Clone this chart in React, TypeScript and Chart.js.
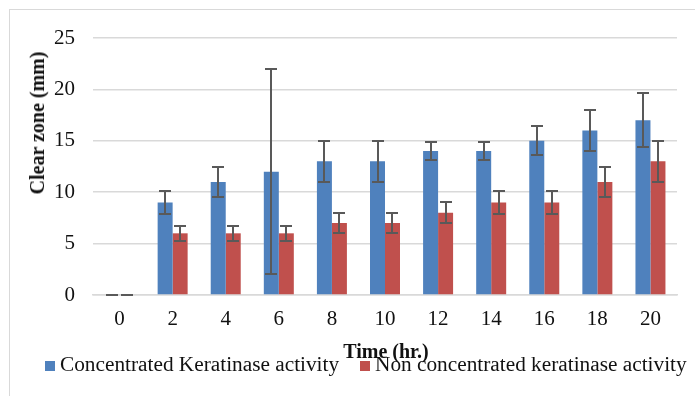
import React, { useEffect, useRef } from "react";
import { Chart, registerables } from "chart.js";

Chart.register(...registerables);

const timeLabels = ["0", "2", "4", "6", "8", "10", "12", "14", "16", "18", "20"];
const concentrated = [0, 9, 11, 12, 13, 13, 14, 14, 15, 16, 17];
const concentratedError = [0, 1.1, 1.5, 10, 2, 2, 0.85, 0.85, 1.4, 2, 2.65];
const nonConcentrated = [0, 6, 6, 6, 7, 7, 8, 9, 9, 11, 13];
const nonConcentratedError = [0, 0.7, 0.7, 0.7, 1, 1, 1, 1.1, 1.1, 1.5, 2];
const yTicks = [0, 5, 10, 15, 20, 25];

const seriesNames = ["Concentrated Keratinase activity", "Non concentrated keratinase activity"];
const seriesColors = ["#4F81BD", "#C0504D"];
const errors = [concentratedError, nonConcentratedError];

const errorBarPlugin = {
  id: "errorBars",
  afterDatasetsDraw(chart: any) {
    const ctx = chart.ctx;
    const yScale = chart.scales.y;
    ctx.save();
    ctx.strokeStyle = "#595959";
    ctx.lineWidth = 2;
    chart.data.datasets.forEach((ds: any, i: number) => {
      const meta = chart.getDatasetMeta(i);
      const errs = errors[i];
      meta.data.forEach((bar: any, j: number) => {
        const v = ds.data[j];
        const e = errs[j];
        const x = Math.round(bar.x);
        const yTop = Math.round(yScale.getPixelForValue(v + e));
        const yBot = Math.round(yScale.getPixelForValue(v - e));
        const half = 6;
        ctx.beginPath();
        if (e > 0) {
          ctx.moveTo(x, yTop);
          ctx.lineTo(x, yBot);
        }
        ctx.moveTo(x - half, yTop);
        ctx.lineTo(x + half, yTop);
        ctx.moveTo(x - half, yBot);
        ctx.lineTo(x + half, yBot);
        ctx.stroke();
      });
    });
    ctx.restore();
  },
};

export default function App() {
  const canvasRef = useRef<HTMLCanvasElement | null>(null);

  useEffect(() => {
    if (!canvasRef.current) return;
    const chart = new Chart(canvasRef.current, {
      type: "bar",
      data: {
        labels: timeLabels,
        datasets: [
          {
            label: seriesNames[0],
            data: concentrated,
            backgroundColor: seriesColors[0],
            borderWidth: 0,
            barPercentage: 1,
            categoryPercentage: 0.565,
          },
          {
            label: seriesNames[1],
            data: nonConcentrated,
            backgroundColor: seriesColors[1],
            borderWidth: 0,
            barPercentage: 1,
            categoryPercentage: 0.565,
          },
        ],
      },
      options: {
        animation: false,
        responsive: false,
        maintainAspectRatio: false,
        layout: { padding: { top: 38, right: 18, bottom: 0, left: 0 } },
        plugins: {
          legend: { display: false },
          tooltip: { enabled: false },
        },
        scales: {
          x: {
            grid: { display: false, drawTicks: false },
            border: { display: true, color: "#d9d9d9", width: 1.5 },
            ticks: {
              padding: 12,
              color: "#111",
              font: { family: "Liberation Serif", size: 21 },
              maxRotation: 0,
            },
            afterFit: (scale: any) => {
              scale.height = 101;
            },
          },
          y: {
            min: 0,
            max: 25,
            afterBuildTicks: (scale: any) => {
              scale.ticks = yTicks.map((v) => ({ value: v }));
            },
            grid: { color: "#d9d9d9", lineWidth: 1.5, drawTicks: false },
            border: { display: false },
            ticks: {
              padding: 18,
              color: "#111",
              font: { family: "Liberation Serif", size: 21 },
            },
            afterFit: (scale: any) => {
              scale.width = 93;
            },
          },
        },
      },
      plugins: [errorBarPlugin],
    });
    return () => chart.destroy();
  }, []);

  const textStyle: React.CSSProperties = {
    position: "absolute",
    fontFamily: "Liberation Serif",
    color: "#111",
    whiteSpace: "nowrap",
  };

  return (
    <div style={{ position: "fixed", left: 0, top: 0, width: 695, height: 396, overflow: "hidden", background: "#fff" }}>
      <div
        style={{
          position: "absolute",
          left: 9,
          top: 9,
          width: 686,
          height: 387,
          borderLeft: "1px solid #d9d9d9",
          borderTop: "1px solid #d9d9d9",
          boxSizing: "border-box",
        }}
      />
      <canvas ref={canvasRef} width={695} height={396} style={{ position: "absolute", left: 0, top: 0 }} />
      <div
        style={{
          ...textStyle,
          left: 37,
          top: 123,
          fontSize: 20,
          lineHeight: "20px",
          fontWeight: "bold",
          transform: "translate(-50%, -50%) rotate(-90deg)",
        }}
      >
        Clear zone (mm)
      </div>
      <div
        style={{
          ...textStyle,
          left: 386,
          top: 341,
          fontSize: 20,
          lineHeight: "20px",
          fontWeight: "bold",
          transform: "translateX(-50%)",
        }}
      >
        Time (hr.)
      </div>
      <div style={{ position: "absolute", left: 45, top: 361, width: 10, height: 10, background: seriesColors[0] }} />
      <div style={{ ...textStyle, left: 60, top: 354, fontSize: 21.3, lineHeight: "21px" }}>{seriesNames[0]}</div>
      <div style={{ position: "absolute", left: 360, top: 361, width: 10, height: 10, background: seriesColors[1] }} />
      <div style={{ ...textStyle, left: 375, top: 354, fontSize: 21.3, lineHeight: "21px" }}>{seriesNames[1]}</div>
    </div>
  );
}
